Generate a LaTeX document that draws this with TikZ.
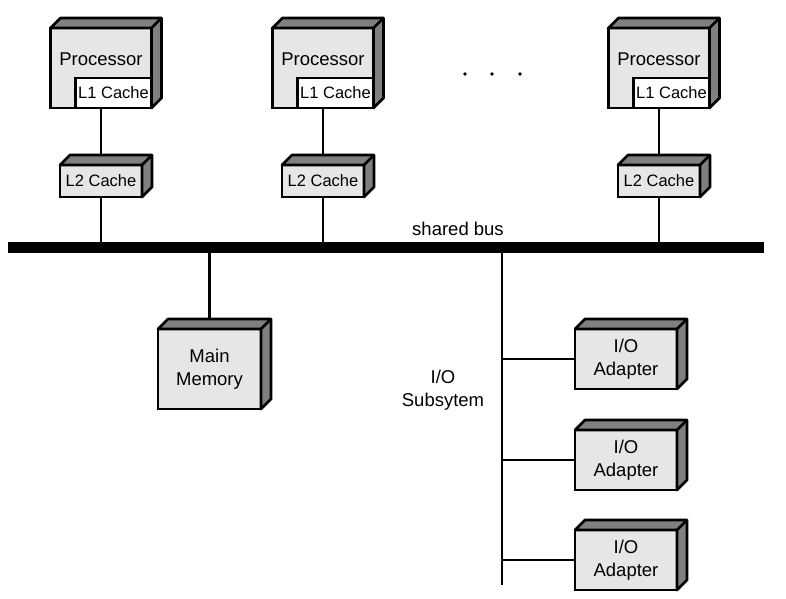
\documentclass[tikz,border=0pt]{standalone}
\usepackage{fontspec}
\setmainfont{Liberation Sans}
\usetikzlibrary{backgrounds,positioning}

\definecolor{facegray}{HTML}{E6E6E6}
\definecolor{sidegray}{HTML}{808080}

\newcommand\unitfont{\fontsize{18.5}{22.5}\selectfont}
\newcommand\cachefont{\fontsize{16.5}{20}\selectfont}
\newcommand\cubedepth{10}

\tikzset{
  unit/.style={draw,line width=2.7pt,fill=facegray,outer sep=0pt,inner sep=0pt,
    align=center,font=\unitfont},
  cpu/.style={unit,minimum width=101pt,minimum height=80pt},
  lonebox/.style={unit,fill=white,font=\cachefont,minimum width=76pt,minimum height=30pt},
  ltwobox/.style={unit,font=\cachefont,minimum width=82pt,minimum height=32pt},
  membox/.style={unit,minimum width=103pt,minimum height=80pt},
  iobox/.style={unit,minimum width=102pt,minimum height=60pt},
  side/.style={draw,fill=sidegray,line width=2.7pt,line join=round},
  bus/.style={fill=black,inner sep=0pt,outer sep=0pt,minimum width=756pt,minimum height=11pt},
  wire/.style={line width=2.2pt},
  caption/.style={font=\unitfont,align=center,inner sep=0pt}
}

% top and right faces of a box node
\newcommand\cubesides[1]{%
  \filldraw[side] (#1.north west) -- ++(\cubedepth,-\cubedepth)
    -- ([shift={(\cubedepth,-\cubedepth)}]#1.north east)
    -- ([shift={(\cubedepth,-\cubedepth)}]#1.south east)
    -- (#1.south east) -- (#1.north east) -- cycle;
  \draw[side] (#1.north east) -- ++(\cubedepth,-\cubedepth);
}

\begin{document}
\begin{tikzpicture}[x=1pt,y=-1pt]
  \useasboundingbox (0,0) rectangle (786,598);

  % processors with their caches
  \foreach \n/\x in {1/101,2/323,3/659} {
    \node[cpu] (p\n) at (\x,68) {};
    \cubesides{p\n}
    \node[lonebox,anchor=south east] (lone\n) at (p\n.south east) {L1 Cache};
    \node[caption,anchor=base] (pt\n) at ([yshift=-37pt]p\n.north) {Processor};
    \node[ltwobox] (ltwo\n) at (\x,181) {L2 Cache};
    \cubesides{ltwo\n}
  }
  \foreach \x in {465,492,520} \fill (\x,74) circle (1.8);

  % bus
  \node[bus] (bus) at (386,247.5) {};
  \node[caption,anchor=base] (buslabel) at (458,235) {shared bus};

  % memory
  \node[membox] (mem) at (209.5,369) {Main\\Memory};
  \cubesides{mem}

  % I/O subsystem
  \coordinate (iobot) at (502,585);
  \node[caption] (iolabel) at (443,390) {I/O\\Subsytem};
  \foreach \n/\y in {1/359,2/460,3/560} {
    \node[iobox] (io\n) at (626,\y) {I/O\\Adapter};
    \cubesides{io\n}
  }

  \begin{scope}[on background layer]
    \foreach \n in {1,2,3} {
      \draw[wire] (p\n.south) -- ([yshift=10pt]ltwo\n.north);
      \draw[wire] (ltwo\n.south) -- (ltwo\n.south |- bus.center);
      \draw[wire] (io\n.west) -- (io\n.west -| iobot);
    }
    \draw[wire] ([yshift=10pt]mem.north) -- (mem.north |- bus.center);
    \draw[wire] (bus.center -| iobot) -- (iobot);
  \end{scope}
\end{tikzpicture}
\end{document}
